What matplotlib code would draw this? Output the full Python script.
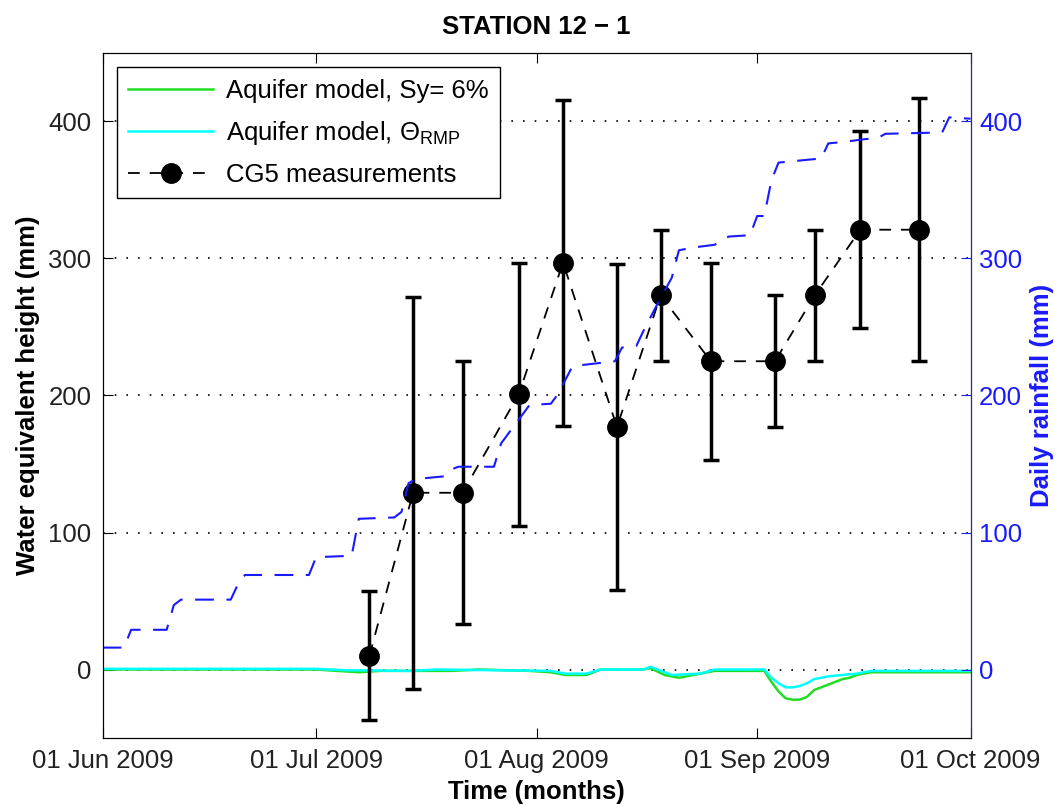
import pandas as pd
import matplotlib.pyplot as plt
import matplotlib.dates as mdates

plt.rcParams['font.family'] = ['Liberation Sans', 'DejaVu Sans']
plt.rcParams['mathtext.fontset'] = 'custom'
plt.rcParams['mathtext.rm'] = 'Liberation Sans'
plt.rcParams['mathtext.it'] = 'Liberation Sans:italic'

# CG5 gravity measurements (water equivalent, mm) and error bars
cg5_dates = ["2009-07-08 12:00", "2009-07-14 15:00", "2009-07-21 14:00", "2009-07-29 12:00",
             "2009-08-04 17:00", "2009-08-12 07:00", "2009-08-18 10:00", "2009-08-25 12:00",
             "2009-09-03 12:00", "2009-09-09 02:00", "2009-09-15 12:00", "2009-09-23 19:00"]
cg5_values = [10, 129, 129, 201, 297, 177, 273, 225, 225, 273, 321, 321]
cg5_err = [47, 143, 96, 96, 119, 119, 48, 72, 48, 48, 72, 96]

# cumulative rainfall (mm)
rain_dates = ["2009-06-01", "2009-06-04", "2009-06-05", "2009-06-10", "2009-06-11", "2009-06-12",
              "2009-06-19", "2009-06-20", "2009-06-21", "2009-06-30", "2009-07-01", "2009-07-06",
              "2009-07-07", "2009-07-12", "2009-07-13", "2009-07-14", "2009-07-15", "2009-07-19",
              "2009-07-20", "2009-07-21", "2009-07-26", "2009-07-27", "2009-07-29", "2009-07-31",
              "2009-08-03", "2009-08-04", "2009-08-06", "2009-08-07", "2009-08-12", "2009-08-13",
              "2009-08-15", "2009-08-16", "2009-08-18", "2009-08-20", "2009-08-21", "2009-08-23",
              "2009-08-26", "2009-08-28", "2009-08-31", "2009-09-01", "2009-09-02", "2009-09-03",
              "2009-09-04", "2009-09-06", "2009-09-08", "2009-09-10", "2009-09-11", "2009-09-13",
              "2009-09-16", "2009-09-18", "2009-09-19", "2009-09-27", "2009-09-28", "2009-10-01"]
rain_values = [16, 16, 29, 29, 47, 51,
               51, 62, 69, 69, 82, 83,
               110, 111, 115, 136, 139, 141,
               146, 148, 148, 165, 179, 193,
               194, 201, 221, 222, 225, 235,
               236, 247, 267, 286, 306, 308,
               310, 316, 317, 331, 331, 357,
               370, 371, 372, 373, 384, 385,
               387, 388, 391, 392, 403, 402]

# aquifer model, Sy = 6%
sy_dates = ["2009-06-01", "2009-07-01", "2009-07-04", "2009-07-07", "2009-07-10", "2009-07-20",
            "2009-07-24", "2009-07-31", "2009-08-03", "2009-08-05", "2009-08-08", "2009-08-10",
            "2009-08-16", "2009-08-17", "2009-08-19", "2009-08-21", "2009-08-24", "2009-08-26",
            "2009-09-02", "2009-09-03", "2009-09-04", "2009-09-05", "2009-09-06", "2009-09-07",
            "2009-09-08", "2009-09-09", "2009-09-10", "2009-09-11", "2009-09-12", "2009-09-13",
            "2009-09-14", "2009-09-15", "2009-09-16", "2009-09-17", "2009-10-01"]
sy_values = [0, 0, -1, -2, -1, -1,
             0, -1, -2, -4, -4, 0,
             0, 1, -4, -6, -3, -1,
             -1, -9, -16, -21, -22, -22,
             -20, -15, -13, -11, -9, -7,
             -6, -4, -3, -2, -2]

# aquifer model, theta RMP
rmp_dates = ["2009-06-01", "2009-07-01", "2009-07-05", "2009-07-14", "2009-07-18", "2009-08-03",
             "2009-08-05", "2009-08-08", "2009-08-10", "2009-08-16", "2009-08-17", "2009-08-18",
             "2009-08-20", "2009-08-24", "2009-08-26", "2009-09-02", "2009-09-03", "2009-09-04",
             "2009-09-05", "2009-09-06", "2009-09-07", "2009-09-08", "2009-09-09", "2009-09-10",
             "2009-09-11", "2009-09-13", "2009-09-15", "2009-09-17", "2009-10-01"]
rmp_values = [0.5, 0.5, -0.5, -1, 0, -1,
              -3, -3, 0, 0, 2, 0,
              -4, -3, 0, 0, -6, -10,
              -13, -13, -12, -10, -7, -6,
              -5, -4, -3, -1, -1]

blue = '#1a1aff'

fig = plt.figure(figsize=(10.55, 8.05), dpi=100)
ax = fig.add_axes([0.0973, 0.0832, 0.8227, 0.851])

# modeles et mesures
ax.plot(pd.to_datetime(sy_dates), sy_values, color='#22dd22', lw=1.8, label='Aquifer model, Sy= 6%')
ax.plot(pd.to_datetime(rmp_dates), rmp_values, color='cyan', lw=1.8,
        label=r'Aquifer model, $\Theta_{\mathrm{RMP}}$')
ax.errorbar(pd.to_datetime(cg5_dates), cg5_values, yerr=cg5_err, fmt='none', ecolor='black',
            elinewidth=2.5, capsize=6, capthick=2.5, zorder=3)
ax.plot(pd.to_datetime(cg5_dates), cg5_values, color='black', ls=(0, (6.5, 5.5)), lw=1.3,
        marker='o', ms=14, mfc='black', mec='black', zorder=4, label='CG5 measurements')

ax.set_xlim(pd.Timestamp("2009-06-01"), pd.Timestamp("2009-10-01"))
ax.set_ylim(-50, 450)
ax.set_yticks([0, 100, 200, 300, 400])
ax.xaxis.set_major_locator(mdates.MonthLocator())
ax.xaxis.set_major_formatter(mdates.DateFormatter('%d %b %Y'))
ax.yaxis.grid(True, color='black', ls=(0, (1, 6)), lw=1.2)
ax.tick_params(direction='in', length=7, top=True, right=False, labelsize=18.5,
               labelcolor='#222222', pad=8)
ax.set_xlabel('Time (months)', fontsize=18.5, fontweight='bold', labelpad=5)
ax.set_ylabel('Water equivalent height (mm)', fontsize=18.5, fontweight='bold', labelpad=6)
ax.set_title('STATION 12 \u2212 1', fontsize=18.5, fontweight='bold', pad=14)

# chuva acumulada no eixo da direita
ax2 = ax.twinx()
ax2.plot(pd.to_datetime(rain_dates), rain_values, color=blue, ls=(0, (9, 6)), lw=1.5)
ax2.set_ylim(-50, 450)
ax2.set_yticks([0, 100, 200, 300, 400])
ax2.tick_params(direction='in', length=7, colors=blue, labelsize=18.5, pad=6)
ax2.spines['right'].set_color(blue)
ax2.set_ylabel('Daily rainfall (mm)', fontsize=18.5, fontweight='bold', color=blue, labelpad=6)

handles, labels = ax.get_legend_handles_labels()
leg = ax2.legend(handles, labels, loc='upper left', fontsize=18.5, frameon=True, fancybox=False,
                 edgecolor='black', framealpha=1, borderaxespad=0.55, handlelength=3.3,
                 handletextpad=0.5, labelspacing=0.62, borderpad=0.45)
leg.get_frame().set_linewidth(1.0)

fig.savefig('out.png', dpi=100)
